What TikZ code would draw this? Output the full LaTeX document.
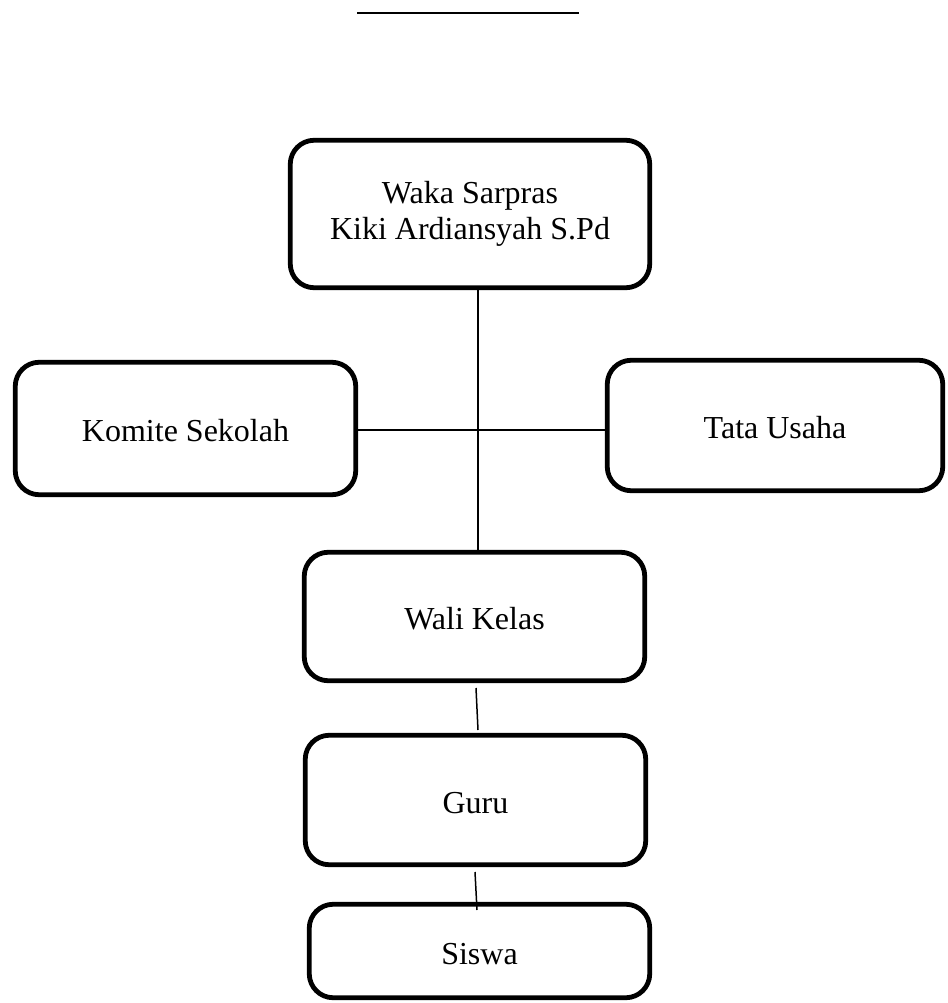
\documentclass[tikz,border=0pt]{standalone}
\usepackage{fontspec}
\setmainfont{Liberation Serif}
\begin{document}
\begin{tikzpicture}[x=1pt,y=-1pt,
  orgbox/.style={draw, line width=4.8pt, rounded corners=24pt, inner sep=0pt,
    align=center, font=\fontsize{32}{36}\selectfont},
  oneline/.style={text height=32pt, text depth=6pt},
  link/.style={line width=1.5pt}]
\useasboundingbox (0,0) rectangle (947,1003);
\coordinate (tl1) at (357,12.7);
\coordinate (tl2) at (579,12.7);
\draw[line width=2pt] (tl1) -- (tl2);
\node[orgbox, minimum width=359.5pt, minimum height=147.5pt] (waka) at (470,214) {Waka Sarpras\\Kiki Ardiansyah S.Pd};
\node[orgbox, oneline, minimum width=340.5pt, minimum height=132.5pt] (komite) at (185.5,428.5) {Komite Sekolah};
\node[orgbox, oneline, minimum width=335.5pt, minimum height=130.5pt] (tata) at (775,425.5) {Tata Usaha};
\node[orgbox, oneline, minimum width=340.5pt, minimum height=128.5pt] (wali) at (474.5,616.5) {Wali Kelas};
\node[orgbox, oneline, minimum width=340.5pt, minimum height=129.5pt] (guru) at (475.5,800) {Guru};
\node[orgbox, oneline, minimum width=340.5pt, minimum height=93.5pt] (siswa) at (479.5,951) {Siswa};
\coordinate (spine) at (478,0);
\coordinate (hbar) at (0,430);
\coordinate (wg1) at (476,688);
\coordinate (wg2) at (478,730);
\coordinate (gs1) at (475,872);
\coordinate (gs2) at (477,910);
\draw[link] (waka.south -| spine) -- (wali.north -| spine);
\draw[link] (komite.east |- hbar) -- (tata.west |- hbar);
\draw[link] (wg1) -- (wg2);
\draw[link] (gs1) -- (gs2);
\end{tikzpicture}
\end{document}
